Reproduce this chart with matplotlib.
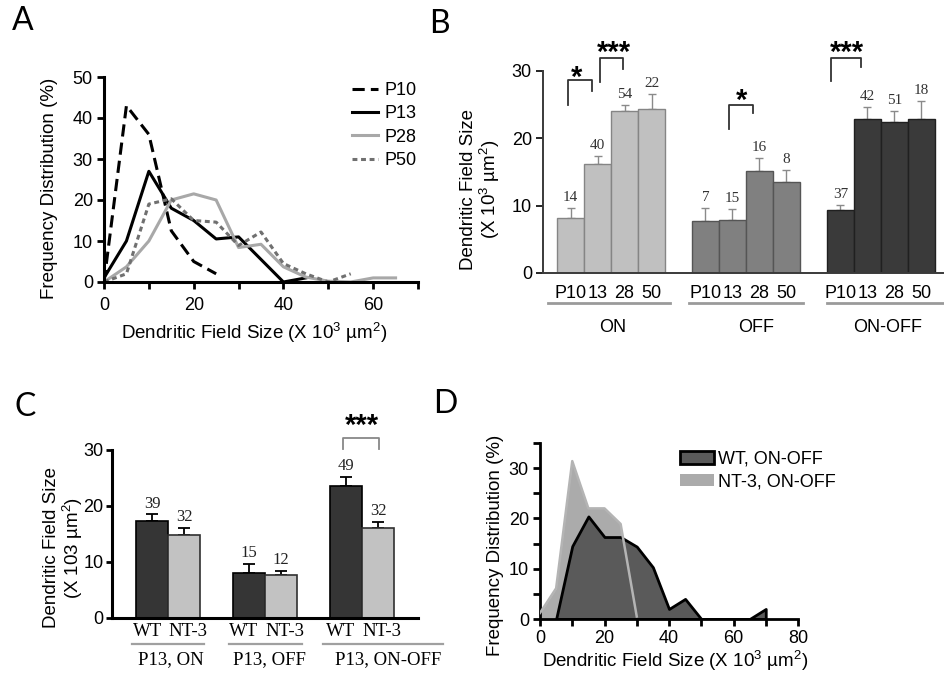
import numpy as np
import matplotlib
matplotlib.use('Agg')
import matplotlib.pyplot as plt
from matplotlib.ticker import MultipleLocator, FixedLocator

plt.rcParams['font.family'] = 'Liberation Sans'
plt.rcParams['mathtext.fontset'] = 'custom'
plt.rcParams['mathtext.rm'] = 'Liberation Sans'
plt.rcParams['mathtext.it'] = 'Liberation Sans'

W, H = 944, 675

# ---------------- data ----------------
# A: frequency distributions by age
size_a = [0, 5, 10, 15, 20, 25, 30, 35, 40, 45, 50, 55, 60, 65]
p10 = [0, 43, 36, 12.5, 5, 2]
p13 = [1, 10, 27, 18, 15, 10.5, 11, 5.5, 0, 1]
p28 = [0, 3.7, 10, 20, 21.5, 20, 8.4, 9.2, 3.7, 1.2, 0.2, 0, 1, 1]
p50 = [0, 2, 19, 20.3, 15, 14.6, 8.9, 12.2, 4.5, 2, 0, 2]

# B: mean field size by age and cell type
ages = ['P10', '13', '28', '50']
groups_b = ['ON', 'OFF', 'ON-OFF']
on_mean = [8.2, 16.2, 24.0, 24.3]
on_err = [1.5, 1.2, 1.0, 2.3]
off_mean = [7.7, 7.9, 15.2, 13.5]
off_err = [2.0, 1.6, 1.9, 1.8]
onoff_mean = [9.3, 22.8, 22.4, 22.9]
onoff_err = [0.8, 1.8, 1.7, 2.6]
on_n = [14, 40, 54, 22]
off_n = [7, 15, 16, 8]
onoff_n = [37, 42, 51, 18]

# C: WT vs NT-3 at P13
groups_c = ['P13, ON', 'P13, OFF', 'P13, ON-OFF']
wt_mean = [17.3, 8.0, 23.6]
wt_err = [1.2, 1.6, 1.6]
nt3_mean = [14.9, 7.6, 16.1]
nt3_err = [1.2, 0.8, 1.0]
wt_n = [39, 15, 49]
nt3_n = [32, 12, 32]

# D: ON-OFF distributions
wt_x = [5, 10, 15, 20, 25, 30, 35, 40, 45, 50, 55, 60, 65, 70]
wt_freq = [0, 14.5, 20.4, 16.3, 16.3, 14.4, 10.3, 2.0, 4.0, 0, 0, 0, 0, 2.0]
nt3_x = [0, 5, 10, 15, 20, 25, 30]
nt3_freq = [1.2, 6.1, 31.4, 22.0, 22.0, 18.9, 0.5]


def box(l, t, r, b):
    return [l / W, 1 - b / H, (r - l) / W, (b - t) / H]


def ftext(x, y, s, **kw):
    fig.text(x / W, 1 - y / H, s, **kw)


fig = plt.figure(figsize=(9.44, 6.75), dpi=100)

serif = 'Liberation Serif'
FS = 13.5   # axis labels
TS = 13     # tick labels

# ---------------- A ----------------
axA = fig.add_axes(box(104, 77, 418, 282))
axA.plot(size_a[:len(p10)], p10, color='black', lw=2.2, dashes=(4, 2), label='P10')
axA.plot(size_a[:len(p13)], p13, color='black', lw=2.2, label='P13')
axA.plot(size_a[:len(p28)], p28, color='#a8a8a8', lw=2.2, label='P28')
axA.plot(size_a[:len(p50)], p50, color='#707070', lw=2.2, dashes=(1.6, 1.2), label='P50')
axA.set_xlim(0, 70)
axA.set_ylim(0, 50)
axA.xaxis.set_major_locator(FixedLocator([0, 20, 40, 60]))
axA.xaxis.set_minor_locator(FixedLocator([10, 30, 50, 70]))
axA.yaxis.set_major_locator(MultipleLocator(10))
for s in ['top', 'right']:
    axA.spines[s].set_visible(False)
for s in ['left', 'bottom']:
    axA.spines[s].set_linewidth(2.2)
axA.tick_params(which='both', direction='out', length=5, width=2, labelsize=TS)
axA.tick_params(axis='x', pad=6)
axA.tick_params(axis='y', pad=3)
axA.legend(loc='upper left', bbox_to_anchor=(0.79, 0.975), frameon=False, fontsize=TS,
           handlelength=1.45, handletextpad=0.35, labelspacing=0.35, borderpad=0, borderaxespad=0)
ftext(50, 188, 'Frequency Distribution (%)', rotation=90, ha='center', va='center', fontsize=FS)
ftext(254, 333, 'Dendritic Field Size (X 10$^{3}$ µm$^{2}$)', ha='center', va='center', fontsize=FS)

# ---------------- B ----------------
axB = fig.add_axes(box(543, 71, 943, 273))
cols_b = [('#c0c0c0', '#858585'), ('#808080', '#555555'), ('#3a3a3a', '#202020')]
means_b = [on_mean, off_mean, onoff_mean]
errs_b = [on_err, off_err, onoff_err]
ns_b = [on_n, off_n, onoff_n]
xpos_b = []
for g in range(3):
    xs = np.arange(4) + 5 * g
    xpos_b += list(xs)
    fc, ec = cols_b[g]
    axB.bar(xs, means_b[g], width=1.0, color=fc, edgecolor=ec, linewidth=1.0, zorder=2)
    axB.errorbar(xs, means_b[g], yerr=[np.zeros(4), errs_b[g]], fmt='none', ecolor='#8a8a8a',
                 elinewidth=1.0, capsize=3, capthick=1.0, zorder=1)
    for x, m, e, n in zip(xs, means_b[g], errs_b[g], ns_b[g]):
        axB.text(x, m + e + 0.6, str(n), ha='center', va='bottom', fontsize=11,
                 family=serif, color='#333333')
axB.set_xlim(-1.02, 13.8)
axB.set_ylim(0, 30)
axB.set_xticks(xpos_b)
axB.set_xticklabels(ages * 3)
axB.yaxis.set_major_locator(MultipleLocator(10))
for s in ['top', 'right']:
    axB.spines[s].set_visible(False)
for s in ['left', 'bottom']:
    axB.spines[s].set_linewidth(1.4)
    axB.spines[s].set_color('#3a3a3a')
axB.tick_params(axis='y', direction='out', length=5, width=1.2, labelsize=TS, pad=3)
axB.tick_params(axis='x', length=0, labelsize=TS, pad=9)
tb = axB.get_xaxis_transform()
for (a, b) in [(-0.83, 3.69), (4.39, 8.61), (9.5, 13.8)]:
    axB.plot([a, b], [-0.149, -0.149], transform=tb, color='#9a9a9a', lw=2, clip_on=False)
for gx, gl in zip([1.57, 6.87, 11.76], groups_b):
    axB.text(gx, -0.272, gl, transform=tb, ha='center', va='center', fontsize=TS)


def bracket(ax, x1, x2, y1, ytop, y2, stars, sx, sy, color='#333333', fs=21):
    ax.plot([x1, x1, x2, x2], [y1, ytop, ytop, y2], color=color, lw=1.3, clip_on=False)
    ax.text(sx, sy, stars, ha='center', va='center', fontsize=fs, fontweight='bold', clip_on=False)


bracket(axB, -0.09, 0.80, 25.0, 28.6, 27.0, '*', 0.24, 29.0)
bracket(axB, 1.09, 1.94, 28.4, 32.0, 30.3, '***', 1.6, 32.7)
bracket(axB, 5.87, 6.76, 21.4, 25.0, 23.7, '*', 6.34, 25.5)
bracket(axB, 9.65, 10.76, 28.5, 32.0, 30.6, '***', 10.23, 32.7)
ftext(481, 189, 'Dendritic Field Size\n(X 10$^{3}$ µm$^{2}$)', rotation=90, ha='center',
      va='center', fontsize=FS, linespacing=1.0)

# ---------------- C ----------------
axC = fig.add_axes(box(112, 450, 418, 618))
xw = np.array([0, 3, 6])
xn = xw + 1
axC.bar(xw, wt_mean, width=1.0, color='#353535', edgecolor='black', linewidth=1.2, zorder=2)
axC.bar(xn, nt3_mean, width=1.0, color='#c2c2c2', edgecolor='#303030', linewidth=1.2, zorder=2)
axC.errorbar(xw, wt_mean, yerr=[np.zeros(3), wt_err], fmt='none', ecolor='black',
             elinewidth=1.3, capsize=4, capthick=1.3, zorder=1)
axC.errorbar(xn, nt3_mean, yerr=[np.zeros(3), nt3_err], fmt='none', ecolor='black',
             elinewidth=1.3, capsize=4, capthick=1.3, zorder=1)
for x, m, e, n in zip(list(xw) + list(xn), wt_mean + nt3_mean, wt_err + nt3_err, wt_n + nt3_n):
    axC.text(x, m + e + 0.5, str(n), ha='center', va='bottom', fontsize=12, family=serif,
             color='#222222')
axC.set_xlim(-1.24, 8.24)
axC.set_ylim(0, 30)
axC.set_xticks([])
axC.yaxis.set_major_locator(MultipleLocator(10))
for s in ['top', 'right']:
    axC.spines[s].set_visible(False)
for s in ['left', 'bottom']:
    axC.spines[s].set_linewidth(2.2)
axC.tick_params(axis='y', direction='out', length=4, width=2, labelsize=TS, pad=2)
tc = axC.get_xaxis_transform()
for x in xw:
    axC.text(x - 0.15, -0.08, 'WT', transform=tc, ha='center', va='center', fontsize=13.5,
             family=serif)
    axC.text(x + 1.12, -0.08, 'NT-3', transform=tc, ha='center', va='center', fontsize=13.5,
             family=serif)
for (a, b) in [(-0.62, 1.61), (2.38, 4.64), (5.29, 9.0)]:
    axC.plot([a, b], [-0.155, -0.155], transform=tc, color='#a0a0a0', lw=1.6, clip_on=False)
for gx, gl in zip([0.59, 3.65, 7.3], groups_c):
    axC.text(gx, -0.25, gl, transform=tc, ha='center', va='center', fontsize=13.5, family=serif)
bracket(axC, 5.91, 7.03, 30.1, 32.1, 30.1, '***', 6.49, 34.3, color='#888888')
ftext(64, 548, 'Dendritic Field Size\n(X 103 µm$^{2}$)', rotation=90, ha='center',
      va='center', fontsize=FS, linespacing=1.0)

# ---------------- D ----------------
axD = fig.add_axes(box(540, 443, 798, 619))
axD.fill_between(nt3_x, nt3_freq, 0, color='#ababab', linewidth=0, zorder=1,
                 label='NT-3, ON-OFF')
axD.fill_between(wt_x, wt_freq, 0, facecolor='#5a5a5a', edgecolor='black', linewidth=2,
                 zorder=2, label='WT, ON-OFF')
axD.plot(nt3_x, nt3_freq, color='#b4b4b4', lw=1.8, zorder=3)
axD.set_xlim(0, 80)
axD.set_ylim(0, 35)
axD.xaxis.set_major_locator(MultipleLocator(20))
axD.xaxis.set_minor_locator(MultipleLocator(10))
axD.yaxis.set_major_locator(FixedLocator([0, 10, 20, 30]))
axD.yaxis.set_minor_locator(FixedLocator([5, 15, 25, 35]))
for s in ['top', 'right']:
    axD.spines[s].set_visible(False)
for s in ['left', 'bottom']:
    axD.spines[s].set_linewidth(2)
axD.tick_params(which='both', direction='out', length=5, width=2, labelsize=TS, pad=3)
h, l = axD.get_legend_handles_labels()
axD.legend(h[::-1], l[::-1], loc='upper left', bbox_to_anchor=(0.543, 0.955), frameon=False,
           fontsize=TS, handlelength=1.9, handletextpad=0.2, labelspacing=0.3,
           borderpad=0, borderaxespad=0)
ftext(495, 545, 'Frequency Distribution (%)', rotation=90, ha='center', va='center', fontsize=FS)
ftext(675, 661, 'Dendritic Field Size (X 10$^{3}$ µm$^{2}$)', ha='center', va='center',
      fontsize=FS)

# panel letters
for x, y, s in [(23, 21, 'A'), (439, 24, 'B'), (25, 407, 'C'), (445, 404, 'D')]:
    ftext(x, y, s, ha='center', va='center', fontsize=23, family='Lato')

fig.savefig('out.png', dpi=100)
